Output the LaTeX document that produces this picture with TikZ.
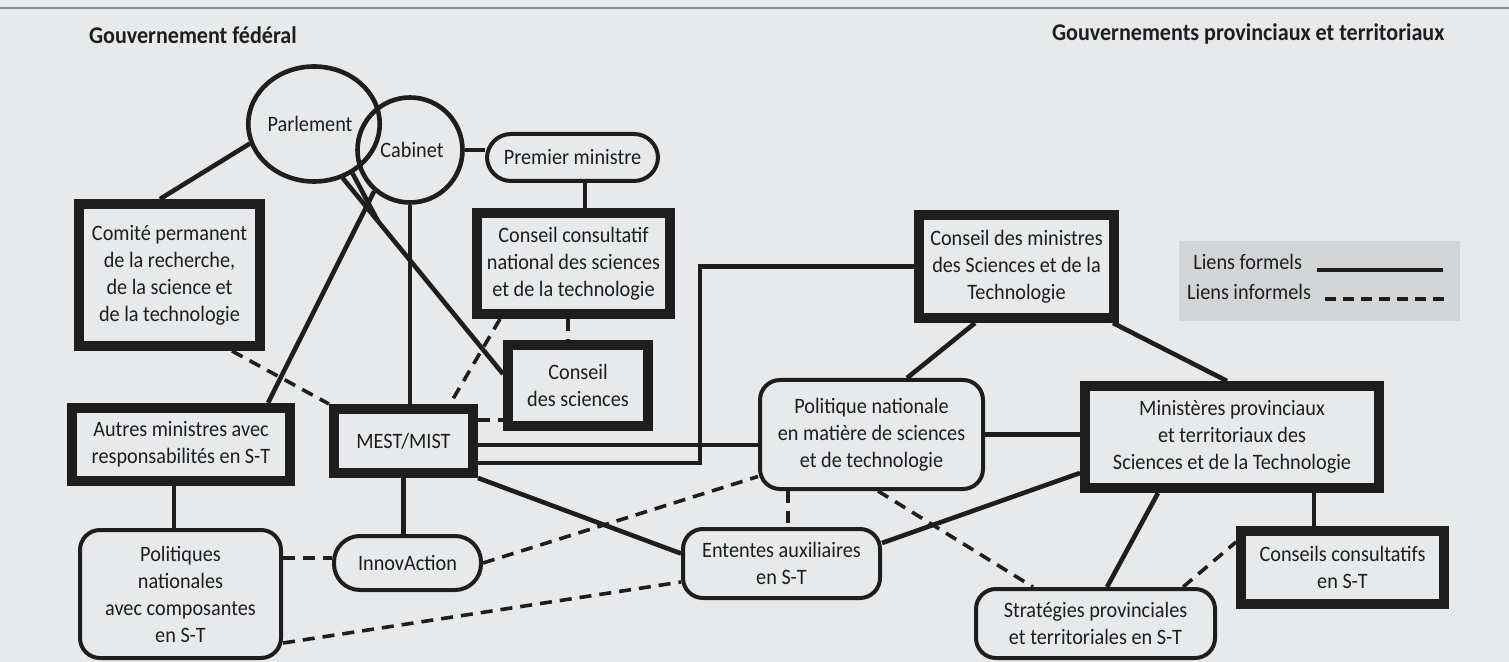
\documentclass[tikz,border=0pt]{standalone}
\usepackage{fontspec}
\setmainfont{Carlito}[FakeStretch=0.92]
\usetikzlibrary{shapes.geometric}
\definecolor{bgc}{HTML}{E8E9EA}
\definecolor{legc}{HTML}{D3D4D6}
\definecolor{linec}{HTML}{1E1E1E}
\definecolor{rulec}{HTML}{8C8D8F}
\begin{document}
\begin{tikzpicture}[x=0.5pt,y=-0.5pt,
  every node/.style={font=\fontsize{11}{13.5}\selectfont, text=linec},
  thickbox/.style={draw=linec, line width=5pt, fill=bgc, inner sep=0pt, align=center},
  roundbox/.style={draw=linec, line width=2pt, rounded corners=10pt, fill=bgc, inner sep=0pt, align=center},
  ring/.style={draw=linec, line width=2.3pt, inner sep=0pt},
  formal/.style={draw=linec, line width=2.3pt},
  informal/.style={draw=linec, line width=1.8pt, dash pattern=on 6pt off 4pt},
  legdash/.style={draw=linec, line width=1.8pt, dash pattern=on 5.5pt off 3.5pt},
  titletext/.style={font=\fontsize{12}{14}\selectfont\bfseries}
]
\fill[bgc] (0,0) rectangle (1509,662);
\useasboundingbox (0,0) rectangle (1509,662);

% rule and titles
\coordinate (r0) at (0,8);
\coordinate (r1) at (1509,8);
\draw[rulec, line width=1pt] (r0) -- (r1);
\node[titletext, anchor=west] (tf) at (82,35) {Gouvernement fédéral};
\node[titletext, anchor=west] (tp) at (1045,34) {Gouvernements provinciaux et territoriaux};

% nodes
\node[ring, ellipse, minimum width=63.5pt, minimum height=57.5pt] (parl) at (314,124) {Parlement\kern4pt};
\node[ring, circle, minimum size=52.5pt] (cab) at (410,150) {\kern2pt Cabinet};
\node[roundbox, rounded corners=12pt, minimum width=85.5pt, minimum height=23.5pt] (pm) at (572.5,157.5) {Premier ministre};
\node[thickbox, minimum width=96.5pt, minimum height=50.5pt] (cc) at (573.5,263.5) {Conseil consultatif\\national des sciences\\et de la technologie};
\node[thickbox, minimum width=70pt, minimum height=40.5pt] (cs) at (578,385.5) {Conseil\\des sciences};
\node[thickbox, minimum width=90.5pt, minimum height=71pt] (com) at (169.5,275) {Comité permanent\\de la recherche,\\de la science et\\de la technologie};
\node[thickbox, minimum width=109pt, minimum height=36.5pt] (aut) at (181,444.5) {Autres ministres avec\\responsabilités en S-T};
\node[thickbox, minimum width=69.5pt, minimum height=32pt] (mest) at (403.5,441) {MEST/MIST};
\node[roundbox, minimum width=100.5pt, minimum height=64pt] (pol) at (180.5,594) {Politiques\\nationales\\avec composantes\\en S-T};
\node[roundbox, rounded corners=13pt, minimum width=73.5pt, minimum height=27pt] (innov) at (407.5,563) {InnovAction};
\node[roundbox, minimum width=111.5pt, minimum height=54.5pt] (pn) at (871.5,434.5) {Politique nationale\\en matière de sciences\\et de technologie};
\node[roundbox, minimum width=98.5pt, minimum height=34.5pt] (ea) at (781.5,563.5) {Ententes auxiliaires\\en S-T};
\node[thickbox, minimum width=97.5pt, minimum height=51.5pt] (cm) at (1016.5,266.5) {Conseil des ministres\\des Sciences et de la\\Technologie};
\node[thickbox, minimum width=147pt, minimum height=51pt] (mp) at (1232,437) {Ministères provinciaux\\et territoriaux des\\Sciences et de la Technologie};
\node[thickbox, minimum width=101.5pt, minimum height=36.5pt] (ccst) at (1342.5,567.5) {Conseils consultatifs\\en S-T};
\node[roundbox, minimum width=119.5pt, minimum height=34.5pt] (strat) at (1095.5,623.5) {Stratégies provinciales\\et territoriales en S-T};

% helper coordinates
\coordinate (f1) at ([xshift=6.25pt]pm.south);
\coordinate (g1) at ([xshift=-3.5pt]aut.south);
\coordinate (i1) at ([yshift=-2pt]mest.east);
\coordinate (j1) at ([yshift=-11pt]mest.east);
\coordinate (rt) at (700,0);
\coordinate (q1) at ([xshift=41pt]mp.south);
\coordinate (t1) at ([xshift=-2.75pt]cc.south);
\coordinate (u1) at ([yshift=10.5pt]mest.east);
\coordinate (v1) at ([yshift=18pt]pol.east);
\coordinate (y1) at ([xshift=-41.75pt]pn.south);
\path (parl.-62) -- ([yshift=-17pt]cs.north west) coordinate[pos=0.22] (mrg);

% formal links
\draw[formal] (parl.197) -- ([xshift=-4.75pt]com.north);
\draw[formal] (parl.-62) -- ([yshift=-17pt]cs.north west);
\draw[formal] (parl.-52) -- (mrg);
\draw[formal] (cab.-131) -- ([xshift=43.5pt]aut.north);
\draw[formal] (cab.south) -- (cab.south |- mest.north);
\draw[formal] (cab.east) -- (cab.east -| pm.west);
\draw[formal] (f1) -- (f1 |- cc.north);
\draw[formal] (g1) -- (g1 |- pol.north);
\draw[formal] (mest.south) -- (mest.south |- innov.north);
\draw[formal] (i1) -- (i1 -| pn.west);
\draw[formal] (j1) -| (rt |- cm.west) -- (cm.west);
\draw[formal] (mest.south east) -- ([yshift=5pt]ea.west);
\draw[formal] ([xshift=-20.75pt]cm.south) -- ([xshift=17.75pt]pn.north);
\draw[formal] ([xshift=-3pt]cm.south east) -- ([xshift=-2.5pt]mp.north);
\draw[formal] (pn.east) -- (pn.east -| mp.west);
\draw[formal] ([yshift=10.25pt]ea.east) -- ([yshift=-18pt]mp.west);
\draw[formal] ([xshift=-37pt]mp.south) -- ([xshift=5.75pt]strat.north);
\draw[formal] (q1) -- (q1 |- ccst.north);

% informal links
\draw[informal] ([xshift=31.25pt]com.south) -- (mest.north west);
\draw[informal] ([xshift=-36.75pt]cc.south) -- ([xshift=23.25pt]mest.north);
\draw[informal] (t1) -- (t1 |- cs.north);
\draw[informal] (u1) -- (u1 -| cs.west);
\draw[informal] (v1) -- (v1 -| innov.west);
\draw[informal] (innov.east) -- ([yshift=-21pt]pn.west);
\draw[informal] ([yshift=-24.5pt]pol.east) -- ([yshift=-9.25pt]ea.west);
\draw[informal] (y1) -- (y1 |- ea.north);
\draw[informal] ([xshift=3.25pt]pn.south) -- ([xshift=-31.25pt]strat.north);
\draw[informal] ([xshift=43.75pt]strat.north) -- ([yshift=12.75pt]ccst.west);

% legend
\node[fill=legc, minimum width=140.5pt, minimum height=40pt, inner sep=0pt] (leg) at (1319.5,281) {};
\node[anchor=base east] (lf) at (1309,270) {Liens formels};
\node[anchor=base east] (li) at (1318,300) {Liens informels};
\coordinate (la) at (1317,270);
\coordinate (lb) at (1443,270);
\coordinate (lc) at (1325,299);
\coordinate (ld) at (1450,299);
\draw[formal] (la) -- (lb);
\draw[legdash] (lc) -- (ld);
\end{tikzpicture}
\end{document}
